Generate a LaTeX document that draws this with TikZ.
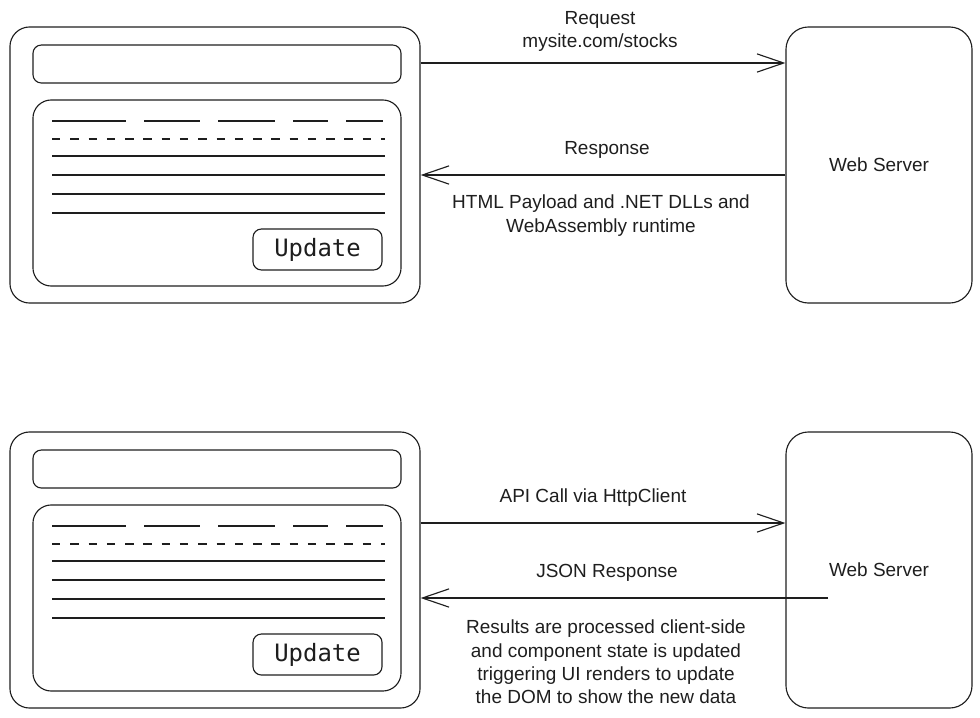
\documentclass[tikz,border=0pt]{standalone}
\usepackage{fontspec}
\setmainfont{Liberation Sans}
\newfontfamily\btnfont{DejaVu Sans Mono}
\usepackage{xcolor}
\definecolor{ink}{HTML}{1E1E1E}
\usetikzlibrary{arrows.meta,positioning}

\begin{document}
\begin{tikzpicture}[x=0.025cm, y=-0.025cm, line width=0.8pt, color=ink,
  window/.style={draw, rounded corners=14pt, inner sep=0pt, minimum width=10.25cm, minimum height=6.9cm},
  addrbar/.style={draw, rounded corners=6pt, inner sep=0pt, minimum width=9.2cm, minimum height=0.95cm},
  panel/.style={draw, rounded corners=13pt, inner sep=0pt, minimum width=9.2cm, minimum height=4.65cm},
  btnbox/.style={draw, rounded corners=6pt, inner sep=0pt, minimum width=3.225cm, minimum height=1.025cm, font=\btnfont\fontsize{17}{20}\selectfont},
  serverbox/.style={draw, rounded corners=16pt, inner sep=0pt, minimum width=4.65cm, minimum height=6.9cm, font=\fontsize{13.5}{16.5}\selectfont},
  msg/.style={font=\fontsize{13.5}{16.5}\selectfont, align=center},
  arrow/.style={-{Straight Barb[length=19pt, width=13pt]}}
]
\useasboundingbox (0,0) rectangle (980,717);

% Browser windows (top and bottom)
\foreach \n/\dy in {1/0, 2/405} {
  \node[window] (win\n) at (215,165+\dy) {};
  \node[addrbar] (addr\n) at (217,64+\dy) {};
  \node[panel] (panel\n) at (217,193+\dy) {};
  \node[btnbox] (btn\n) at (317.5,249.5+\dy) {Update};
  % heading row
  \foreach \a/\b in {52/126, 144/200, 218/275, 293/328, 346/383}
    \draw (\a,121+\dy) -- (\b,121+\dy);
  \draw[dash pattern=on 6pt off 7pt] (52,139+\dy) -- (385,139+\dy);
  % text rows
  \foreach \ty in {156, 175, 194, 213}
    \draw (52,\ty+\dy) -- (385,\ty+\dy);
}

% Servers
\node[serverbox] (srv1) at (879,165) {Web Server};
\node[serverbox] (srv2) at (879,570) {Web Server};

% First load
\draw[arrow] (win1.east |- 0,63) -- (srv1.west |- 0,63);
\node[msg] (req) at (600,31.5) {Request\\mysite.com/stocks};
\draw[arrow] (srv1.west |- 0,175) -- (win1.east |- 0,175);
\node[msg] (resp) at (607,150) {Response};
\node[msg] (payload) at (601,215.5) {HTML Payload and .NET DLLs and\\WebAssembly runtime};

% API call
\draw[arrow] (win2.east |- 0,523) -- (srv2.west |- 0,523);
\node[msg] (api) at (593,498) {API Call via HttpClient};
\coordinate (jsonstart) at (828,598);
\draw[arrow] (jsonstart) -- (win2.east |- jsonstart);
\node[msg] (json) at (607,573) {JSON Response};
\node[msg] (result) at (606,662) {Results are processed client-side\\and component state is updated\\triggering UI renders to update\\the DOM to show the new data};

\end{tikzpicture}
\end{document}
